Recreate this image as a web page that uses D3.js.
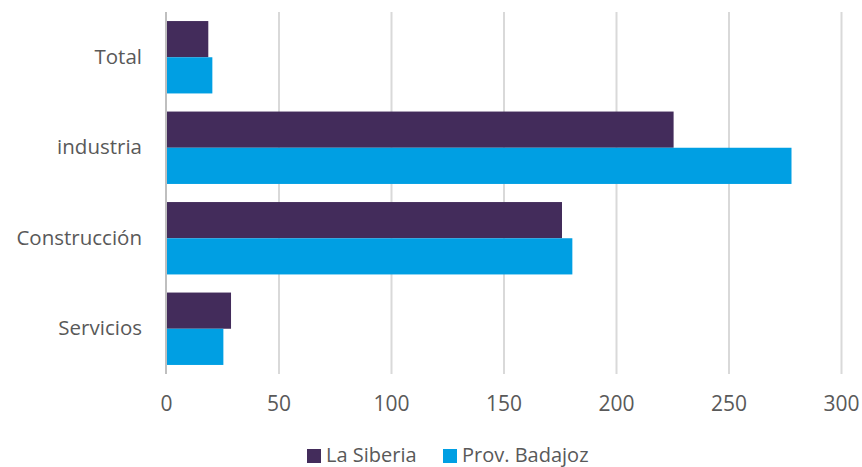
<!DOCTYPE html>
<html><head><meta charset="utf-8">
<script src="https://cdn.jsdelivr.net/npm/d3@7"></script>
<style>body{margin:0;background:#fff}svg{display:block;font-family:"Open Sans",sans-serif}</style>
</head><body><svg id="c" width="862" height="467"></svg>
<script>
const categories = ["Total","industria","Construcción","Servicios"];
const seriesNames = ["La Siberia","Prov. Badajoz"];
const laSiberia = [18.8, 225.6, 176, 28.9];
const provBadajoz = [20.6, 278, 180.6, 25.5];
const tickValues = [0,50,100,150,200,250,300];
const colors = ["#432C5B","#009FE3"];

const svg = d3.select("#c");
const m = {l:166, r:21, t:12, b:93};
const W = 862, H = 467;
const x = d3.scaleLinear().domain([0,300]).range([m.l, W-m.r]);
const y = d3.scaleBand().domain(categories).range([m.t, H-m.b]).paddingInner(0.2).paddingOuter(0.1);
const sub = d3.scaleBand().domain(seriesNames).range([0, y.bandwidth()]);

// gridlines
svg.append("g").selectAll("line").data(tickValues.slice(1)).join("line")
  .attr("x1",d=>x(d)+0.5).attr("x2",d=>x(d)+0.5)
  .attr("y1",m.t).attr("y2",H-m.b)
  .attr("stroke","#D9D9D9").attr("stroke-width",2);

const data = categories.map((c,i)=>({c, vals:[laSiberia[i], provBadajoz[i]]}));
const g = svg.append("g");
data.forEach(d=>{
  d.vals.forEach((v,j)=>{
    g.append("rect").attr("x",x(0)).attr("y",y(d.c)+sub(seriesNames[j]))
      .attr("width",x(v)-x(0)).attr("height",sub.bandwidth())
      .attr("fill",colors[j]);
  });
});

// axis line at 0
svg.append("line").attr("x1",x(0)).attr("x2",x(0)).attr("y1",m.t).attr("y2",H-m.b)
  .attr("stroke","#BFBFBF").attr("stroke-width",2);

// x tick labels
const xa = svg.append("g").attr("transform",`translate(0,${H-m.b})`)
  .call(d3.axisBottom(x).tickValues(tickValues).tickSize(0).tickPadding(22));
xa.select(".domain").remove();
xa.selectAll("text").attr("font-size",21).attr("fill","#595959").attr("font-family","'Open Sans',sans-serif");

// y category labels
const ya = svg.append("g").attr("transform",`translate(${m.l},0)`)
  .call(d3.axisLeft(y).tickSize(0).tickPadding(24));
ya.select(".domain").remove();
ya.selectAll("text").attr("font-size",20.5).attr("fill","#595959").attr("font-family","'Open Sans',sans-serif");

// legend
const legend = svg.append("g");
const lx = [307, 443];
seriesNames.forEach((s,i)=>{
  legend.append("rect").attr("x",lx[i]).attr("y",449).attr("width",14).attr("height",14).attr("fill",colors[i]);
  legend.append("text").attr("x",lx[i]+19).attr("y",462)
    .attr("font-size",20).attr("fill","#595959").text(s);
});
</script></body></html>
